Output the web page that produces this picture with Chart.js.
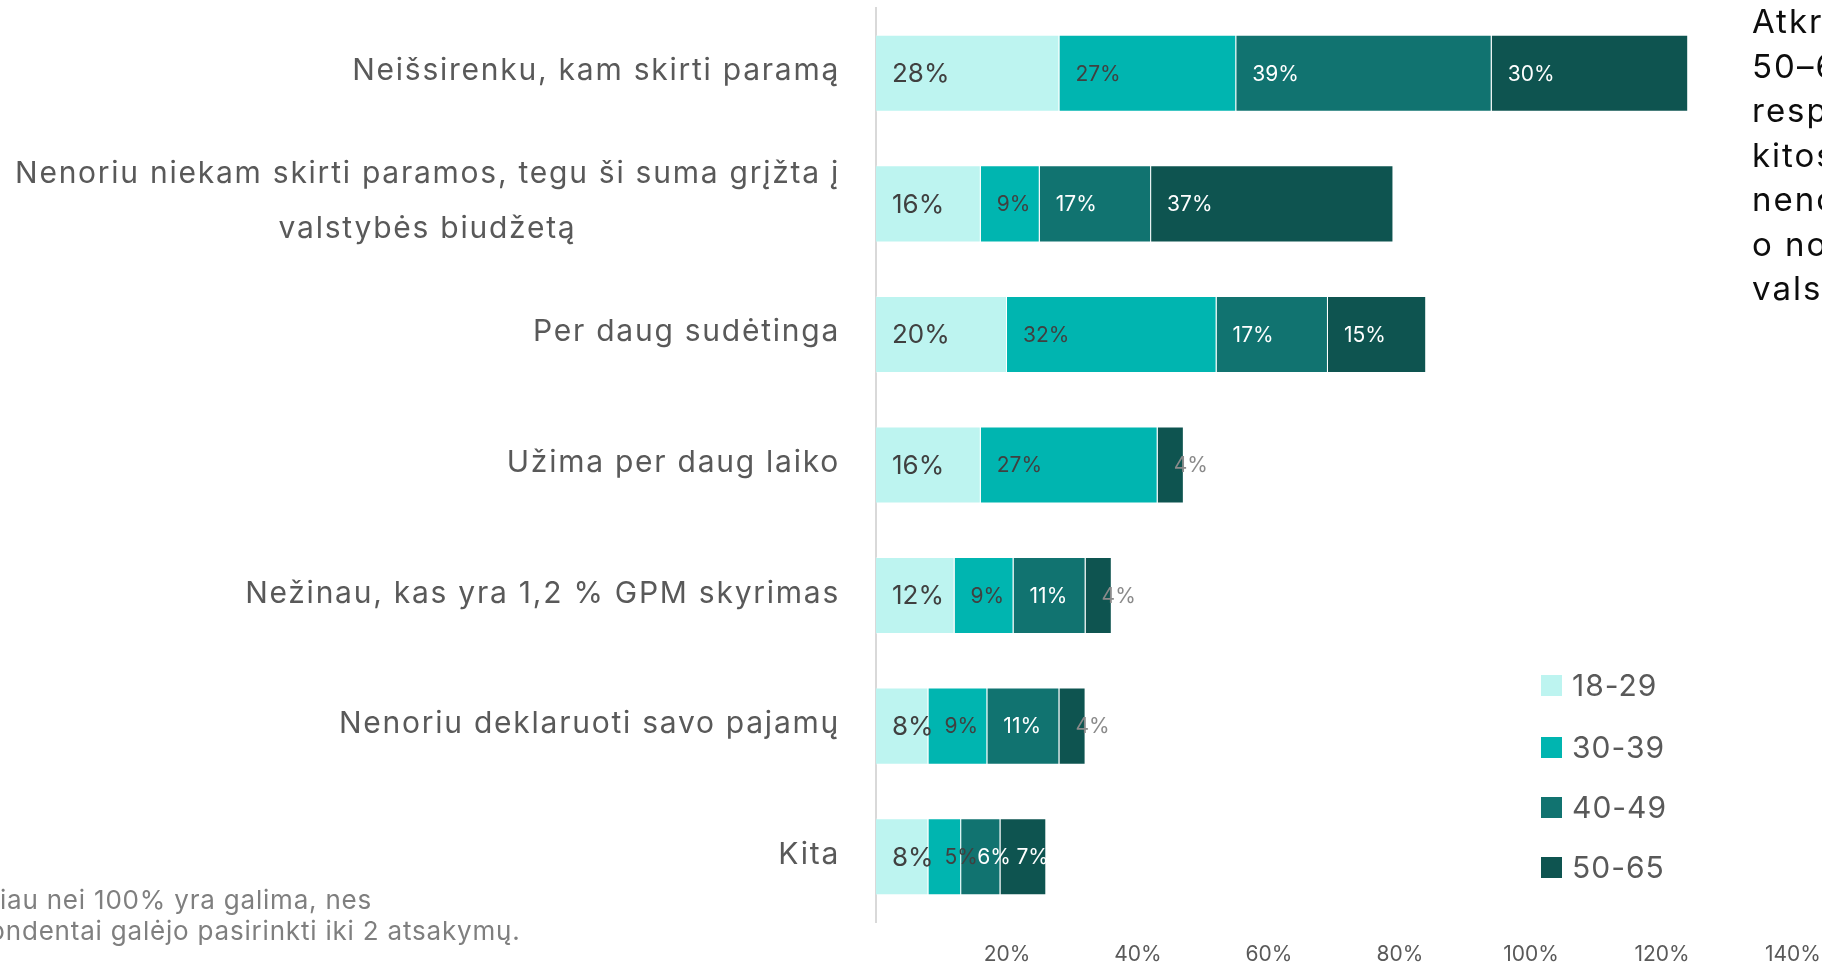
<!DOCTYPE html>
<html><head><meta charset="utf-8">
<script src="https://cdn.jsdelivr.net/npm/chart.js@4.4.1/dist/chart.umd.min.js"></script>
<style>
html,body{margin:0;padding:0;background:#fff;overflow:hidden;width:1822px;height:966px;}
#c{position:absolute;left:0;top:0;}
#note{position:absolute;left:1752px;top:-1px;font-family:Inter,sans-serif;font-size:33px;letter-spacing:2px;line-height:44.5px;color:#0d0d0d;white-space:nowrap;}
#foot{position:absolute;left:-60px;top:884px;font-family:Inter,sans-serif;font-size:26px;letter-spacing:0.8px;line-height:31px;color:#7f7f7f;white-space:nowrap;}
.lg{position:absolute;left:1541px;height:40px;display:flex;align-items:center;font-family:Inter,sans-serif;font-size:30px;letter-spacing:1px;color:#595959;white-space:nowrap;}
.lg span.sw{display:inline-block;width:21px;height:21px;margin-right:10px;}
</style></head>
<body>
<canvas id="c" width="1822" height="966"></canvas>
<div id="note">Atkreipkite dėmesį, kad<br>50–65 m. amžiaus<br>respondentai dažniau nei<br>kitos grupės teigė, kad<br>nenori niekam skirti paramos,<br>o nori, kad suma grįžtų į<br>valstybės biudžetą.</div>
<div id="foot"><span id="hid">Daug</span>iau nei 100% yra galima, nes<br>respondentai galėjo pasirinkti iki 2 atsakymų.</div>
<div id="legend"></div>
<script>
const categories = [
  ["Neišsirenku, kam skirti paramą"],
  ["Nenoriu niekam skirti paramos, tegu ši suma grįžta į", "valstybės biudžetą"],
  ["Per daug sudėtinga"],
  ["Užima per daug laiko"],
  ["Nežinau, kas yra 1,2 % GPM skyrimas"],
  ["Nenoriu deklaruoti savo pajamų"],
  ["Kita"]
];
const seriesNames = ["18-29", "30-39", "40-49", "50-65"];
const age18_29 = [28, 16, 20, 16, 12, 8, 8];
const age30_39 = [27, 9, 32, 27, 9, 9, 5];
const age40_49 = [39, 17, 17, null, 11, 11, 6];
const age50_65 = [30, 37, 15, 4, 4, 4, 7];
const xTickValues = [0, 20, 40, 60, 80, 100, 120, 140];

const colors = ["#bdf4f0", "#00b5b0", "#117370", "#0e5450"];
const seriesData = [age18_29, age30_39, age40_49, age50_65];
const FONT = "Inter, sans-serif";

// footnote: hide the clipped start
document.getElementById('foot').style.left = (-document.getElementById('hid').offsetWidth) + 'px';

// HTML legend
const legendCenters = [685, 747, 807, 867];
const lg = document.getElementById('legend');
seriesNames.forEach((n, i) => {
  const d = document.createElement('div');
  d.className = 'lg';
  d.style.top = (legendCenters[i] - 20) + 'px';
  d.innerHTML = '<span class="sw" style="background:' + colors[i] + '"></span>' + n;
  lg.appendChild(d);
});

const labelPlugin = {
  id: 'labels',
  afterDatasetsDraw(chart) {
    const ctx = chart.ctx;
    ctx.save();
    ctx.textBaseline = 'middle';
    ctx.textAlign = 'left';
    chart.data.datasets.forEach((ds, di) => {
      const meta = chart.getDatasetMeta(di);
      meta.data.forEach((el, i) => {
        const v = ds.data[i];
        if (v === null || v === undefined) return;
        const left = Math.min(el.x, el.base);
        let col;
        if (di < 2) col = '#404040';
        else col = v <= 4 ? '#8a8a8a' : '#ffffff';
        ctx.fillStyle = col;
        ctx.font = (di === 0 ? '26px ' : '21px ') + FONT;
        ctx.fillText(v + '%', left + 16, el.y + 1);
      });
    });
    ctx.restore();
  },
  afterDraw(chart) {
    const ctx = chart.ctx;
    const ys = chart.scales.y;
    const right = chart.chartArea.left - 36;
    ctx.save();
    ctx.font = '30px ' + FONT;
    ctx.letterSpacing = '1.75px';
    ctx.fillStyle = '#595959';
    ctx.textBaseline = 'middle';
    ctx.textAlign = 'center';
    const lh = 55;
    categories.forEach((lines, i) => {
      const y = ys.getPixelForValue(i);
      const w = Math.max(...lines.map(l => ctx.measureText(l).width));
      const cx = right - w / 2;
      const y0 = y - (lines.length - 1) * lh / 2 - 2;
      lines.forEach((l, k) => ctx.fillText(l, cx, y0 + k * lh));
    });
    ctx.restore();
  }
};

new Chart(document.getElementById('c'), {
  type: 'bar',
  data: {
    labels: categories.map(c => c.join(' ')),
    datasets: seriesNames.map((n, i) => ({
      label: n,
      data: seriesData[i],
      backgroundColor: colors[i],
      borderWidth: 1,
      borderColor: 'rgba(255,255,255,0.3)',
      categoryPercentage: 1,
      barPercentage: 0.59
    }))
  },
  options: {
    indexAxis: 'y',
    responsive: false,
    devicePixelRatio: 1,
    animation: false,
    layout: { padding: { top: 8, right: 29, left: 0, bottom: 0 } },
    plugins: { legend: { display: false }, tooltip: { enabled: false } },
    scales: {
      x: {
        stacked: true,
        min: 0, max: 140,
        afterBuildTicks: s => { s.ticks = xTickValues.map(v => ({ value: v })); },
        afterFit: s => { s.height = 44; s.paddingRight = 0; s.paddingLeft = 0; },
        grid: { display: false, drawTicks: false },
        border: { display: false },
        ticks: {
          padding: 20,
          color: '#595959',
          font: { family: FONT, size: 21 },
          callback: v => v === 0 ? '' : v + '%'
        }
      },
      y: {
        stacked: true,
        afterFit: s => { s.width = 876; },
        grid: { display: false, drawTicks: false },
        border: { display: true, color: '#d9d9d9', width: 2 },
        ticks: { display: false }
      }
    }
  },
  plugins: [labelPlugin]
});
</script>
</body></html>
